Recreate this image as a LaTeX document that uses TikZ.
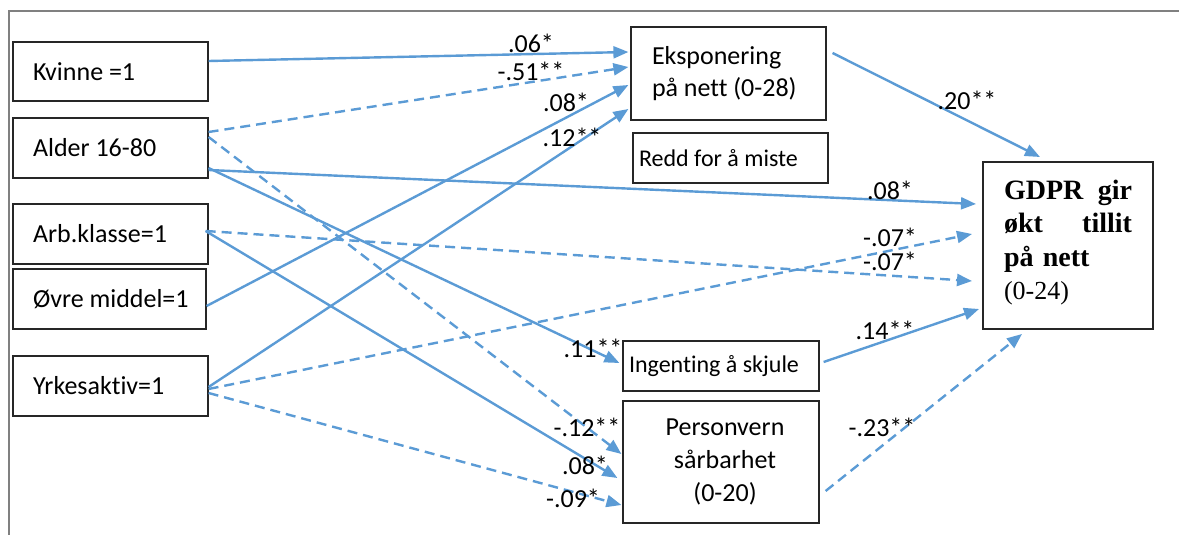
\documentclass[tikz,border=0pt]{standalone}
\usepackage{fontspec}
\setmainfont{Carlito}[Ligatures=NoCommon]
\newfontfamily\tnr{Liberation Serif}
\usetikzlibrary{arrows.meta,calc}
\definecolor{pathblue}{HTML}{5B9BD5}
\definecolor{framegray}{HTML}{808080}
\definecolor{boxline}{HTML}{262626}

% fixed-width line, text flush left
\newcommand{\lline}[2]{\makebox[#1][l]{#2}}

\begin{document}
\begin{tikzpicture}[x=1pt,y=-1pt,
  box/.style={draw=boxline, line width=1.2pt, inner ysep=0pt,
    font=\fontsize{26}{33}\selectfont},
  leftbox/.style={box, inner xsep=20pt, align=left,
    minimum width=195pt, minimum height=60pt},
  lbl/.style={inner sep=0pt, font=\fontsize{26}{30}\selectfont},
  conn/.style={draw=pathblue, line width=2.4pt,
    -{Triangle[length=15pt,width=12pt]}},
  dconn/.style={conn, dash pattern=on 10pt off 6pt}]

\useasboundingbox (0,0) rectangle (1179,535);

% page frame
\draw[framegray, line width=2pt] (9,535) -- (9,11) -- (1179,11);

% predictors
\node[leftbox, minimum height=59pt] (kv) at (110.5,71.5) {\lline{155pt}{Kvinne =1}};
\node[leftbox] (al) at (110.5,148) {\lline{155pt}{Alder 16-80}};
\node[leftbox] (ar) at (110.5,234) {\lline{155pt}{Arb.klasse=1}};
\node[leftbox, minimum width=193pt] (ov) at (109.5,299) {\lline{153pt}{Øvre middel=1}};
\node[leftbox] (yr) at (110.5,386) {\lline{155pt}{Yrkesaktiv=1}};

% mediators
\node[box, inner xsep=21pt, align=left,
  minimum width=195pt, minimum height=93pt] (ek) at (728.5,73.5)
  {\lline{153pt}{Eksponering}\\[-1pt]\lline{153pt}{på nett (0-28)}};
\node[box, inner xsep=6pt, align=left, font=\fontsize{24}{30}\selectfont,
  minimum width=195pt, minimum height=50pt] (rd) at (730.5,158)
  {\lline{183pt}{Redd for å miste}};
\node[box, inner xsep=6pt, align=left, font=\fontsize{24}{30}\selectfont,
  minimum width=196pt, minimum height=50pt] (ig) at (721,366)
  {\lline{184pt}{Ingenting å skjule}};
\node[box, inner xsep=12pt, text width=172pt, align=center,
  minimum width=196pt, minimum height=122pt] (pv) at (721,462)
  {\hspace*{8pt}Personvern\\\hspace*{8pt}sårbarhet\\\hspace*{8pt}(0-20)};

% outcome
\node[box, line width=2pt, inner xsep=21pt, text width=128pt, align=left,
  minimum width=170pt, minimum height=167pt,
  font=\tnr\fontsize{28}{33.5}\selectfont] (gd) at (1068,245.5)
  {\textbf{GDPR\hfill gir}\\\textbf{økt\hfill tillit}\\\textbf{på nett}\\
   {\fontsize{26}{33.5}\selectfont(0-24)}\vspace*{6pt}};

% paths into exposure
\draw[conn]  ($(kv.east)+(0,-10.5)$) -- ($(ek.west)+(-2,-21.5)$);
\draw[dconn] ($(al.east)+(0,-16)$)   -- ($(ek.west)+(-2,-6.5)$);
\draw[conn]  ($(ov.east)+(0,7)$)     -- ($(ek.west)+(-2,11.5)$);
\draw[conn]  ($(yr.east)+(0,1)$)     -- ($(ek.west)+(-2,35.5)$);

% paths into "ingenting å skjule" and vulnerability
\draw[conn]  ($(al.east)+(0,20)$)    -- ($(ig.west)+(-3,-3)$);
\draw[dconn] ($(al.east)+(0,-11)$)   -- ($(pv.west)+(-1,-8)$);
\draw[conn]  ($(ar.east)+(-3,-3)$)   -- ($(pv.west)+(-5,16)$);
\draw[dconn] ($(yr.east)+(0,7)$)     -- ($(pv.west)+(-1,43)$);

% direct paths into the outcome
\draw[conn]  ($(al.east)+(0,22)$)    -- ($(gd.west)+(-6,-41.5)$);
\draw[dconn] ($(ar.east)+(-3,-3)$)   -- ($(gd.west)+(-10,35.5)$);
\draw[dconn] ($(yr.east)+(0,3)$)     -- ($(gd.west)+(-10,-11.5)$);

% mediator paths into the outcome
\draw[conn]  ($(ek.east)+(6,-20.5)$) -- ($(gd.north)+(-28,-4)$);
\draw[conn]  ($(ig.east)+(4,-4)$)    -- ($(gd.west)+(-3,63.5)$);
\draw[dconn] ($(pv.east)+(6,29)$)    -- ($(gd.south)+(-46,4)$);

% coefficients
\node[lbl] (c1)  at (531,43)  {.06*};
\node[lbl] (c2)  at (531,71)  {-.51**};
\node[lbl] (c3)  at (566,102) {.08*};
\node[lbl] (c4)  at (572,137) {.12**};
\node[lbl] (c5)  at (967,100) {.20**};
\node[lbl] (c6)  at (890,190) {.08*};
\node[lbl] (c7)  at (890,237) {-.07*};
\node[lbl] (c8)  at (890,261) {-.07*};
\node[lbl] (c9)  at (885,330) {.14**};
\node[lbl] (c10) at (882,427) {-.23**};
\node[lbl] (c11) at (593,348) {.11**};
\node[lbl] (c12) at (587,427) {-.12**};
\node[lbl] (c13) at (585,465) {.08*};
\node[lbl] (c14) at (573,498) {-.09*};

\end{tikzpicture}
\end{document}
